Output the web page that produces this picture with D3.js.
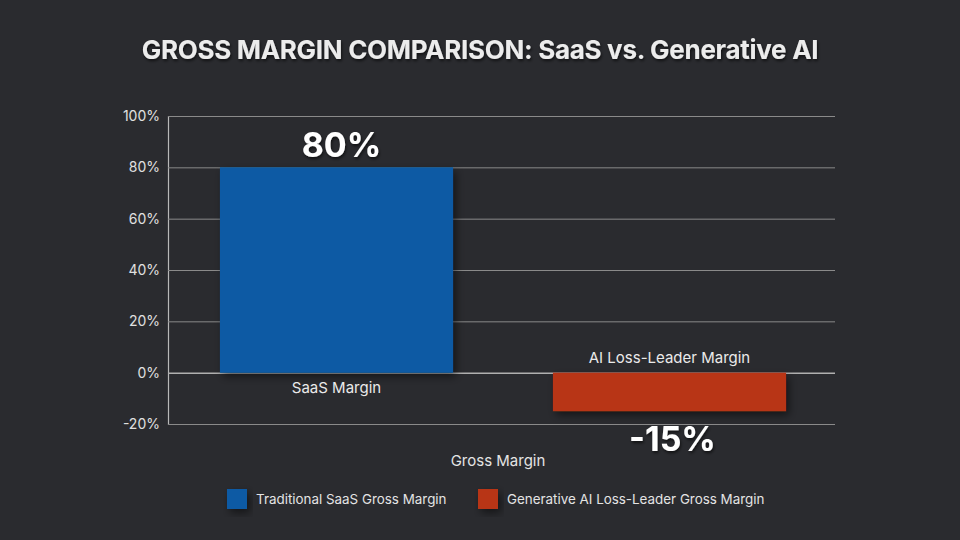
<!DOCTYPE html>
<html><head><meta charset="utf-8">
<script src="https://cdn.jsdelivr.net/npm/d3@7"></script>
<style>
html,body{margin:0;padding:0;background:#2a2b2f;}
svg{display:block;font-family:Inter,"Noto Sans",sans-serif;}
</style></head>
<body>
<svg id="c" width="960" height="540"></svg>
<script>
const categories = ["SaaS Margin", "AI Loss-Leader Margin"];
const values = [80, -15];
const seriesNames = ["Traditional SaaS Gross Margin", "Generative AI Loss-Leader Gross Margin"];
const colors = ["#0a5aa4", "#b83617"];
const yTicks = [-20, 0, 20, 40, 60, 80, 100];
const title = "GROSS MARGIN COMPARISON: SaaS vs. Generative AI";
const xAxisTitle = "Gross Margin";

const svg = d3.select("#c");
const W = 960, H = 540;
const m = {left:168, right:125, top:116, bottom:116};
const x = d3.scaleBand().domain(categories).range([m.left + 2, W - m.right + 1]).paddingInner(0.3).paddingOuter(0.15);
const y = d3.scaleLinear().domain([-20, 100]).range([H - m.bottom, m.top]);

const defs = svg.append("defs");
const f = defs.append("filter").attr("id","sh").attr("x","-20%").attr("y","-20%").attr("width","150%").attr("height","160%");
f.append("feDropShadow").attr("dx",3).attr("dy",4).attr("stdDeviation",4).attr("flood-color","#000").attr("flood-opacity",0.5);
const ft = defs.append("filter").attr("id","tsh").attr("x","-10%").attr("y","-30%").attr("width","120%").attr("height","160%");
ft.append("feDropShadow").attr("dx",1).attr("dy",2).attr("stdDeviation",1.5).attr("flood-color","#000").attr("flood-opacity",0.6);

svg.append("text").attr("x", 480).attr("y", 59).attr("text-anchor","middle")
  .attr("fill","#ececec").attr("font-size",26).attr("font-weight",700).attr("letter-spacing",-0.3)
  .attr("filter","url(#tsh)").text(title);

// grid
const yAxis = d3.axisLeft(y).tickValues(yTicks).tickFormat(d => d + "%").tickSize(-(W - m.right - m.left)).tickPadding(8);
const gy = svg.append("g").attr("transform", `translate(${m.left},0)`).call(yAxis);
gy.select(".domain").attr("stroke","#b8b8b8").attr("stroke-width",1.2);
gy.selectAll(".tick line").attr("stroke","#8a8a8a").attr("stroke-width",1);
gy.selectAll(".tick text").attr("fill","#e0e0e0").attr("font-size",14).attr("font-family","Inter,'Noto Sans',sans-serif");
gy.selectAll(".tick").filter(d => d === 0).select("line").attr("stroke","#b0b0b0").attr("stroke-width",1.5);

// bars
svg.append("g").selectAll("rect").data(categories).join("rect")
  .attr("x", d => x(d))
  .attr("width", x.bandwidth())
  .attr("y", (d,i) => y(Math.max(0, values[i])))
  .attr("height", (d,i) => Math.abs(y(values[i]) - y(0)))
  .attr("fill", (d,i) => colors[i])
  .attr("filter","url(#sh)");

// value labels
svg.append("g").selectAll("text").data(categories).join("text")
  .attr("x", (d,i) => x(d) + x.bandwidth()/2 + (values[i] >= 0 ? 5 : 3))
  .attr("y", (d,i) => values[i] >= 0 ? y(values[i]) - 10 : y(values[i]) + 40)
  .attr("text-anchor","middle").attr("fill","#ffffff").attr("font-size",34).attr("font-weight",700)
  .attr("filter","url(#tsh)")
  .text((d,i) => values[i] + "%");

// category labels
svg.append("g").selectAll("text").data(categories).join("text")
  .attr("x", d => x(d) + x.bandwidth()/2)
  .attr("y", (d,i) => values[i] >= 0 ? y(0) + 20 : y(0) - 10)
  .attr("text-anchor","middle").attr("fill","#eaeaea").attr("font-size",15)
  .text(d => d);

svg.append("text").attr("x", 498).attr("y", 466).attr("text-anchor","middle")
  .attr("fill","#e4e4e4").attr("font-size",15).text(xAxisTitle);

// legend
const legX = [227, 478];
const lg = svg.append("g").selectAll("g").data(seriesNames).join("g")
  .attr("transform", (d,i) => `translate(${legX[i]},489)`);
lg.append("rect").attr("width",20).attr("height",20).attr("fill",(d,i)=>colors[i]).attr("filter","url(#sh)");
lg.append("text").attr("x",29).attr("y",15).attr("fill","#e4e4e4").attr("font-size",13.4).text(d => d);
</script>
</body></html>
